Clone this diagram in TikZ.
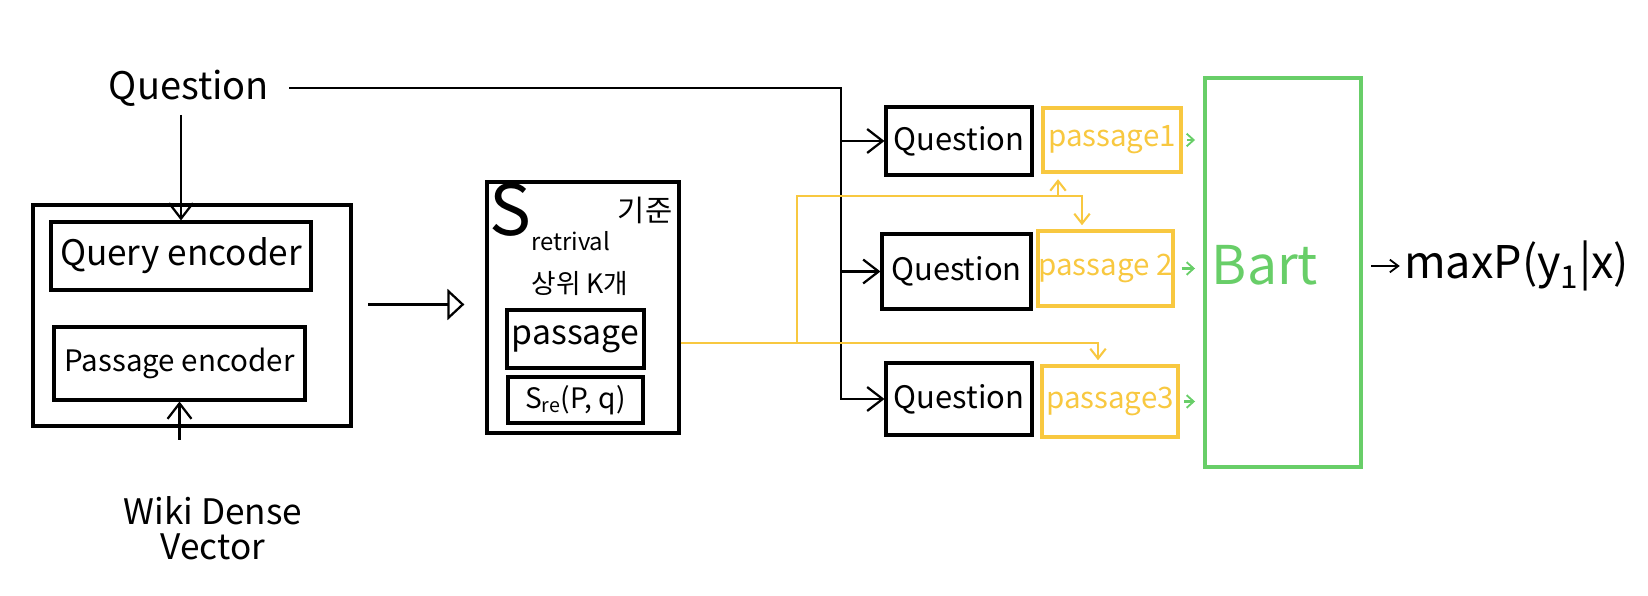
\documentclass[tikz,border=0pt]{standalone}
\usepackage{fontspec}
\setmainfont{Noto Sans CJK KR}
\usetikzlibrary{arrows.meta,fit,calc}
\definecolor{yel}{RGB}{248,200,64}
\definecolor{grn}{RGB}{104,206,104}
\newcommand\fsz[1]{\fontsize{#1}{#1}\selectfont}
\begin{document}
\begin{tikzpicture}[x=0.025cm,y=-0.025cm,
  bx/.style={draw, line width=2.2pt, inner sep=0pt},
  ybx/.style={draw=yel, line width=2.2pt, inner sep=0pt},
  gbx/.style={draw=grn, line width=2.2pt, inner sep=0pt},
  lbl/.style={inner sep=0pt},
  ylbl/.style={inner sep=0pt, text=yel},
  arr/.style={line width=1.8pt, -{Straight Barb[length=11pt,width=17pt,line width=1.6pt]}},
  tri/.style={line width=1.8pt, -{Triangle[open,length=12pt,width=22pt,line width=1.6pt]}},
  yarr/.style={draw=yel, line width=2pt, -{Straight Barb[length=7pt,width=11pt,line width=1.5pt]}},
  garr/.style={draw=grn, line width=1.6pt, -{Straight Barb[length=5pt,width=9pt,line width=1.3pt]}},
  oarr/.style={line width=1.4pt, -{Straight Barb[length=6pt,width=9pt,line width=1.3pt]}}
]
\useasboundingbox (0,0) rectangle (1648,596);

% left part
\node[lbl, font=\fsz{27}] (q0) at (189,88) {Question};
\node[bx, fit={(33,205)(351,426)}] (enc) {};
\node[bx, fit={(51,222)(311,290)}] (qenc) {};
\node[lbl, font=\fsz{25}] (qencl) at (qenc.center) {Query encoder};
\node[bx, fit={(54,327)(305,400)}] (penc) {};
\node[lbl, font=\fsz{21}] (pencl) at (penc.center) {Passage encoder};
\node[lbl, font=\fsz{25}, align=center] (wiki) at (213,528) {Wiki Dense\\Vector};

% retrieval box
\node[bx, fit={(487,182)(679,433)}] (sbox) {};
\node[lbl, anchor=base west, font=\fsz{50}] (sS) at (489,236) {S\raisebox{-10pt}{\fsz{17}retrival}};
\node[lbl, font=\fsz{21}] (gijun) at (645,210) {기준};
\node[lbl, font=\fsz{19}] (sangwi) at (580,283) {상위 K개};
\node[bx, fit={(507,310)(644,368)}] (spass) {};
\node[lbl, font=\fsz{24}] (spassl) at (spass.center) {passage};
\node[bx, fit={(508,377)(643,423)}] (sre) {};
\node[lbl, font=\fsz{20}] (srel) at (sre.center) {S\textsubscript{re}(P, q)};

% question boxes
\node[bx, fit={(886,107)(1032,175)}] (qb1) {};
\node[lbl, font=\fsz{22}] (qb1l) at (qb1.center) {Question};
\node[bx, fit={(882,234)(1031,309)}] (qb2) {};
\node[lbl, font=\fsz{22}] (qb2l) at (qb2.center) {Question};
\node[bx, fit={(886,363)(1032,435)}] (qb3) {};
\node[lbl, font=\fsz{22}] (qb3l) at (qb3.center) {Question};

% passage boxes
\node[ybx, fit={(1043,108)(1181,172)}] (pb1) {};
\node[ylbl, font=\fsz{21}] (pb1l) at (pb1.center) {passage1};
\node[ybx, fit={(1038,231)(1173,306)}] (pb2) {};
\node[ylbl, font=\fsz{21}] (pb2l) at (pb2.center) {passage 2};
\node[ybx, fit={(1042,366)(1178,437)}] (pb3) {};
\node[ylbl, font=\fsz{21}] (pb3l) at (pb3.center) {passage3};

% Bart
\node[gbx, fit={(1205,78)(1361,467)}] (bart) {};
\node[lbl, text=grn, font=\fsz{38}] (bartlbl) at (1265,265) {Bart};
\node[lbl, anchor=west, font=\fsz{32}] (out) at (1404,266) {maxP(y\textsubscript{1}|x)};

% black connectors
\coordinate (j0) at (841,83);
\draw[arr, shorten <=6pt] (q0.south -| qenc.north) -- (qenc.north);
\draw[arr, shorten <=40pt] (wiki.north -| penc.south) -- (penc.south);
\draw[tri, shorten <=11pt, shorten >=15pt] ([yshift=0.275cm]enc.east) -- ([yshift=0.275cm]enc.east -| sbox.west);
\draw[arr, shorten <=14pt] (q0.east) -| (j0 |- qb3.west) -- (qb3.west);
\draw[arr] (j0 |- qb1.west) -- (qb1.west);
\draw[arr] (j0 |- qb2.west) -- (qb2.west);
\draw[oarr, shorten <=6pt, shorten >=3pt] (bart.east |- out.west) -- (out.west);

% yellow connectors
\coordinate (ya) at (797,343);
\coordinate (yb) at (797,196);
\coordinate (y1) at (1058,196);
\coordinate (y2) at (1082,196);
\coordinate (y3) at (1098,343);
\draw[yarr, shorten >=3pt] (sbox.east |- y3) -- (y3) -- (y3 |- pb3.north);
\draw[yarr, shorten >=3pt] (ya) -- (yb) -- (y2) -- (y2 |- pb2.north);
\draw[yarr, shorten >=4pt] (y1) -- (y1 |- pb1.south);

% green connectors
\draw[garr, shorten <=3pt, shorten >=6pt] (pb1.east) -- (pb1.east -| bart.west);
\draw[garr, shorten <=5pt, shorten >=6pt] (pb2.east) -- (pb2.east -| bart.west);
\draw[garr, shorten <=3pt, shorten >=6pt] (pb3.east) -- (pb3.east -| bart.west);
\end{tikzpicture}
\end{document}
